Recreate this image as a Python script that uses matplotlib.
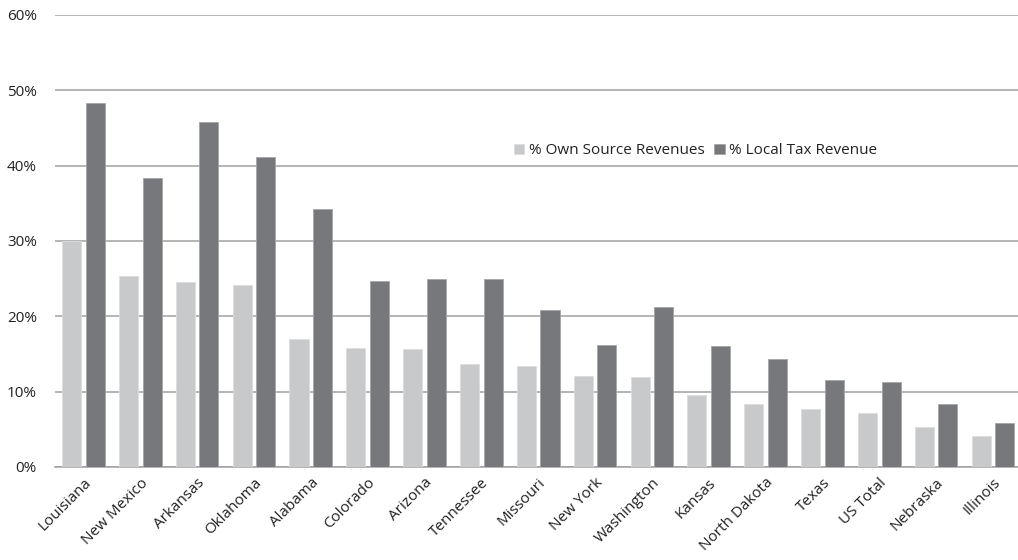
import matplotlib.pyplot as plt
from matplotlib.ticker import PercentFormatter
import numpy as np

plt.rcParams['font.family'] = ['Open Sans', 'DejaVu Sans']

states = ["Louisiana", "New Mexico", "Arkansas", "Oklahoma", "Alabama", "Colorado",
          "Arizona", "Tennessee", "Missouri", "New York", "Washington", "Kansas",
          "North Dakota", "Texas", "US Total", "Nebraska", "Illinois"]
own_source = [30.0, 25.4, 24.6, 24.1, 17.0, 15.8, 15.7, 13.7, 13.4, 12.1, 11.9,
              9.6, 8.4, 7.7, 7.2, 5.3, 4.1]
local_tax = [48.3, 38.3, 45.8, 41.2, 34.3, 24.7, 25.0, 24.9, 20.8, 16.2, 21.2,
             16.1, 14.3, 11.5, 11.3, 8.4, 5.8]

fig = plt.figure(figsize=(10.18, 5.60), dpi=100)
ax = fig.add_axes([55/1018, 93/560, 963/1018, 452/560])

x = np.arange(len(states))
w = 0.335
ax.bar(x - 0.04 - w/2, own_source, w, color="#c8c9cb", edgecolor="#dcdcdc",
       linewidth=0.6, label="% Own Source Revenues", zorder=3)
ax.bar(x + 0.04 + w/2, local_tax, w, color="#77787c", edgecolor="#a5a6a8",
       linewidth=0.6, label="% Local Tax Revenue", zorder=3)

ax.set_ylim(0, 60)
ax.set_xlim(-0.5, 16.44)
ax.set_yticks(range(0, 61, 10))
ax.yaxis.set_major_formatter(PercentFormatter(decimals=0))
ax.grid(axis="y", color="#a0a0a0", linewidth=1.1, zorder=0)
for s in ["top", "right", "left"]:
    ax.spines[s].set_visible(False)
ax.spines["bottom"].set_color("#a0a0a0")
ax.spines["bottom"].set_linewidth(1.1)
ax.tick_params(axis="both", length=0, labelsize=11, colors="#222222")
ax.tick_params(axis="y", pad=13)
ax.tick_params(axis="x", pad=6)

ax.set_xticks(x)
ax.set_xticklabels(states, rotation=45, ha="right", rotation_mode="anchor")

fig.legend(loc="center left", bbox_to_anchor=(500/1018, 1 - 151/560), ncol=2,
           frameon=False, fontsize=11, handlelength=0.7, handleheight=0.7,
           handletextpad=0.3, columnspacing=0.6, labelcolor="#222222")

fig.savefig("out.png", dpi=100)
